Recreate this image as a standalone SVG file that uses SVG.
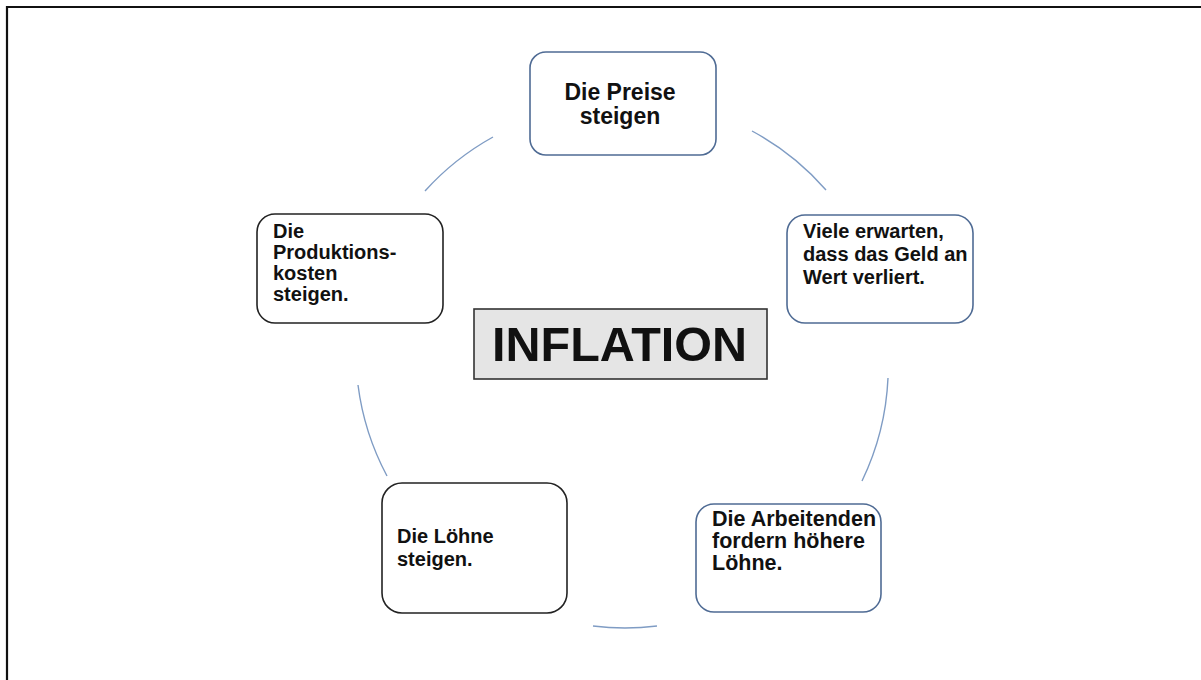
<svg xmlns="http://www.w3.org/2000/svg" width="1201" height="680" viewBox="0 0 1201 680">
<style>
.bg{fill:#ffffff}
.box{fill:#ffffff;stroke-width:1.6}
.blue{stroke:#4f6b94}
.dark{stroke:#222222}
.t{font-family:"Liberation Sans",Arial,sans-serif;font-weight:bold;fill:#111111}
.arc{fill:none;stroke:#7f9cc4;stroke-width:1.4}
</style>
<rect class="bg" x="0" y="0" width="1201" height="680"/>
<path d="M7,680 L7,7 L1201,7" fill="none" stroke="#111" stroke-width="2.2"/>
<g id="connectors">
<path class="arc" d="M425,191 A264,264 0 0 1 493,137"/>
<path class="arc" d="M752,131 A264,264 0 0 1 826,190"/>
<path class="arc" d="M888,378 A264,264 0 0 1 862,481"/>
<path class="arc" d="M657,626 A264,264 0 0 1 593,626"/>
<path class="arc" d="M387,476 A264,264 0 0 1 358,385"/>
</g>
<g id="node-preise">
<rect class="box blue" x="530" y="52" width="186" height="103" rx="16"/>
<text class="t" font-size="23" text-anchor="middle" x="620" y="100">Die Preise</text>
<text class="t" font-size="23" text-anchor="middle" x="620" y="124">steigen</text>
</g>
<g id="node-erwarten">
<rect class="box blue" x="787" y="215" width="186" height="108" rx="18"/>
<text class="t" font-size="20" x="803" y="238">Viele erwarten,</text>
<text class="t" font-size="20" x="803" y="261">dass das Geld an</text>
<text class="t" font-size="20" x="803" y="284">Wert verliert.</text>
</g>
<g id="node-produktion">
<rect class="box dark" x="257" y="214" width="186" height="109" rx="18"/>
<text class="t" font-size="20" x="273" y="238">Die</text>
<text class="t" font-size="20" x="273" y="259">Produktions-</text>
<text class="t" font-size="20" x="273" y="280">kosten</text>
<text class="t" font-size="20" x="273" y="301">steigen.</text>
</g>
<g id="node-inflation">
<rect x="474" y="309" width="293" height="70" fill="#e5e5e5" stroke="#333333" stroke-width="1.6"/>
<text class="t" font-size="48.5" x="492" y="361">INFLATION</text>
</g>
<g id="node-loehne">
<rect class="box dark" x="382" y="483" width="185" height="130" rx="20"/>
<text class="t" font-size="20" x="397" y="543">Die Löhne</text>
<text class="t" font-size="20" x="397" y="566">steigen.</text>
</g>
<g id="node-arbeitende">
<rect class="box blue" x="696" y="504" width="185" height="108" rx="18"/>
<text class="t" font-size="21.5" x="712" y="526">Die Arbeitenden</text>
<text class="t" font-size="21.5" x="712" y="548">fordern höhere</text>
<text class="t" font-size="21.5" x="712" y="570">Löhne.</text>
</g>
</svg>
